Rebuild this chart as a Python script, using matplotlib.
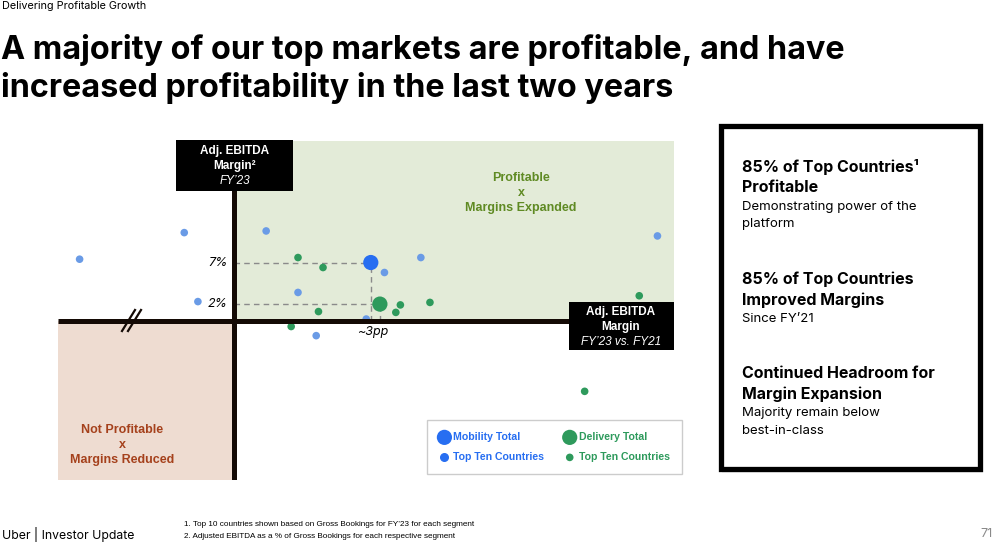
import matplotlib
matplotlib.use("Agg")
import matplotlib.pyplot as plt
from matplotlib.patches import Rectangle
from matplotlib.lines import Line2D

# Valeurs : x = variation de marge (pp, FY23 vs FY21), y = marge FY23 (%)
mobility_x = [-3.4, -1.1, -0.8, 0.7, 1.4, 3.3, 4.1, 9.3, 2.9, 1.8]
mobility_y = [7.4, 10.6, 2.3, 10.8, 3.4, 5.8, 7.6, 10.2, 0.2, -1.8]
delivery_x = [1.4, 1.95, 1.85, 3.65, 3.55, 4.3, 1.25, 8.9, 7.7]
delivery_y = [7.6, 6.4, 1.1, 1.9, 1.0, 2.2, -0.7, 3.0, -8.5]
mobility_total = (3.0, 7.0)
delivery_total = (3.2, 2.0)

legend_labels = ["Mobility Total", "Top Ten Countries", "Delivery Total", "Top Ten Countries"]

title_lines = ["A majority of our top markets are profitable, and have",
               "increased profitability in the last two years"]
side_blocks = [
    ("85% of Top Countries\u00b9", "Profitable", ["Demonstrating power of the", "platform"]),
    ("85% of Top Countries", "Improved Margins", ["Since FY\u201921"]),
    ("Continued Headroom for", "Margin Expansion", ["Majority remain below", "best-in-class"]),
]
footnotes = ["1. Top 10 countries shown based on Gross Bookings for FY\u201923 for each segment",
             "2. Adjusted EBITDA as a % of Gross Bookings for each respective segment"]

W, H = 999, 543
BLUE = "#276ef1"
LIGHT_BLUE = "#6a9be6"
GREEN = "#2e9a5c"
MAIN = ["Inter", "DejaVu Sans"]
NARROW = ["Liberation Sans Narrow", "Liberation Sans", "DejaVu Sans"]


def fx(px):
    return px / W


def fy(py):
    return 1 - py / H


fig = plt.figure(figsize=(W / 100, H / 100), dpi=100)
fig.patch.set_facecolor("white")

# zone du graphique (pixels 58..674 en x, 141..480 en y)
ax = fig.add_axes([fx(58), fy(480), fx(674) - fx(58), fy(141) - fy(480)])
px_per_pp = 45.5
px_per_pct = 8.31
x0, y0 = 234.3, 320.7
xmin, xmax = (58 - x0) / px_per_pp, (674 - x0) / px_per_pp
ymin, ymax = (y0 - 480) / px_per_pct, (y0 - 141) / px_per_pct
ax.set_xlim(xmin, xmax)
ax.set_ylim(ymin, ymax)
ax.axis("off")

# quadrants
ax.add_patch(Rectangle((0, 0), xmax, ymax, facecolor="#e3ebd8", edgecolor="none", zorder=0))
ax.add_patch(Rectangle((xmin, ymin), -xmin, -ymin, facecolor="#eedcd1", edgecolor="none", zorder=0))

# lignes pointillées vers les totaux
for tx, ty in [mobility_total, delivery_total]:
    ax.plot([0, tx], [ty, ty], ls=(0, (4, 3)), color="#8a8a8a", lw=1, zorder=1)
    ax.plot([tx, tx], [0, ty], ls=(0, (4, 3)), color="#8a8a8a", lw=1, zorder=1)

# points
top_mob = ax.scatter(mobility_x, mobility_y, s=30, color=LIGHT_BLUE, edgecolors="none", zorder=2)
top_del = ax.scatter(delivery_x, delivery_y, s=30, color=GREEN, edgecolors="none", zorder=2)

# axes
ax.plot([xmin, xmax], [0, 0], color="#140a05", lw=3.6, zorder=3, solid_capstyle="butt")
ax.plot([0, 0], [ymin, ymax], color="#140a05", lw=3.6, zorder=3, solid_capstyle="butt")

tot_mob = ax.scatter(*mobility_total, s=120, color=BLUE, edgecolors="none", zorder=4)
tot_del = ax.scatter(*delivery_total, s=120, color=GREEN, edgecolors="none", zorder=4)

# rupture d'axe //
for dx in (0, 6):
    fig.add_artist(Line2D([fx(122 + dx), fx(135 + dx)], [fy(331), fy(310)], color="#140a05", lw=1.6))

# étiquettes des totaux
ax.text(-0.15, mobility_total[1], "7%", ha="right", va="center", fontsize=9, style="italic", family=MAIN)
ax.text(-0.15, delivery_total[1], "2%", ha="right", va="center", fontsize=9, style="italic", family=MAIN)
fig.text(fx(373), fy(332), "~3pp", ha="center", va="center", fontsize=9, style="italic", family=MAIN)

# libellés des quadrants
for i, t in enumerate(["Profitable", "x", "Margins Expanded"]):
    fig.text(fx(521), fy(178 + 15 * i), t, ha="center", va="center", fontsize=9, fontweight="bold",
             color="#5f8a23", family=NARROW)
for i, t in enumerate(["Not Profitable", "x", "Margins Reduced"]):
    fig.text(fx(122), fy(430 + 15 * i), t, ha="center", va="center", fontsize=9, fontweight="bold",
             color="#a5411c", family=NARROW)

# boîtes noires des titres d'axes
fig.add_artist(Rectangle((fx(176), fy(191)), fx(293) - fx(176), fy(140) - fy(191),
                         facecolor="black", edgecolor="none", transform=fig.transFigure, zorder=5))
for i, (t, st) in enumerate([("Adj. EBITDA", "normal"), ("Margin\u00b2", "normal"), ("FY\u201923", "italic")]):
    fig.text(fx(235), fy(151 + 15 * i), t, ha="center", va="center", fontsize=8.5, color="white",
             fontweight="bold" if st == "normal" else "normal", style=st, family=NARROW, zorder=6)

fig.add_artist(Rectangle((fx(569), fy(350)), fx(674) - fx(569), fy(302) - fy(350),
                         facecolor="black", edgecolor="none", transform=fig.transFigure, zorder=5))
for i, (t, st) in enumerate([("Adj. EBITDA", "normal"), ("Margin", "normal"), ("FY\u201923 vs. FY21", "italic")]):
    fig.text(fx(621), fy(312 + 15 * i), t, ha="center", va="center", fontsize=8.5, color="white",
             fontweight="bold" if st == "normal" else "normal", style=st, family=NARROW, zorder=6)

# légende
leg = ax.legend([tot_mob, top_mob, tot_del, top_del], legend_labels, ncol=2,
                loc="upper left", bbox_to_anchor=(fx(427), fy(420)), bbox_transform=fig.transFigure,
                borderaxespad=0, frameon=True, fancybox=False, edgecolor="#cccccc", framealpha=1,
                prop={"family": NARROW, "size": 7.6, "weight": "bold"}, handletextpad=0.35,
                columnspacing=1.9, labelspacing=0.95, borderpad=1.15, handlelength=1.0)
leg.get_frame().set_linewidth(1)
for txt, c in zip(leg.get_texts(), [BLUE, BLUE, GREEN, GREEN]):
    txt.set_color(c)
leg.legend_handles[1].set_color(BLUE)

# en-tête et titre
fig.text(fx(2), fy(6), "Delivering Profitable Growth", ha="left", va="center", fontsize=7.8, family=MAIN)
for i, line in enumerate(title_lines):
    fig.text(fx(1), fy(50 + 38 * i), line, ha="left", va="center", fontsize=23.3,
             fontweight="bold", family=MAIN)

# encadré de droite avec ombre
for k, a in enumerate([0.10, 0.14, 0.2]):
    fig.add_artist(Rectangle((fx(722 + k), fy(473 - k)), fx(983 - k) - fx(722 + k), fy(128 + k) - fy(473 - k),
                             facecolor="#808080", alpha=a, edgecolor="none", transform=fig.transFigure, zorder=1))
fig.add_artist(Rectangle((fx(721), fy(469)), fx(980) - fx(721), fy(126) - fy(469),
                         facecolor="white", edgecolor="black", lw=3.8, transform=fig.transFigure, zorder=2))
tops = [167, 279, 373]
for top, (h1, h2, body) in zip(tops, side_blocks):
    fig.text(fx(742), fy(top), h1, ha="left", va="center", fontsize=11.5, fontweight="bold", family=MAIN, zorder=3)
    fig.text(fx(742), fy(top + 21), h2, ha="left", va="center", fontsize=11.5, fontweight="bold", family=MAIN, zorder=3)
    for j, b in enumerate(body):
        fig.text(fx(742), fy(top + 40 + 17.5 * j), b, ha="left", va="center", fontsize=9.5,
                 family=MAIN, zorder=3)

# pied de page
fig.text(fx(2), fy(535), "Uber | Investor Update", ha="left", va="center", fontsize=8.8, family=MAIN)
for i, t in enumerate(footnotes):
    fig.text(fx(184), fy(524 + 12 * i), t, ha="left", va="center", fontsize=5.9, family=NARROW)
fig.text(fx(993), fy(534), "71", ha="right", va="center", fontsize=9, color="#8a8a8a", family=MAIN)

fig.savefig("out.png", dpi=100)
